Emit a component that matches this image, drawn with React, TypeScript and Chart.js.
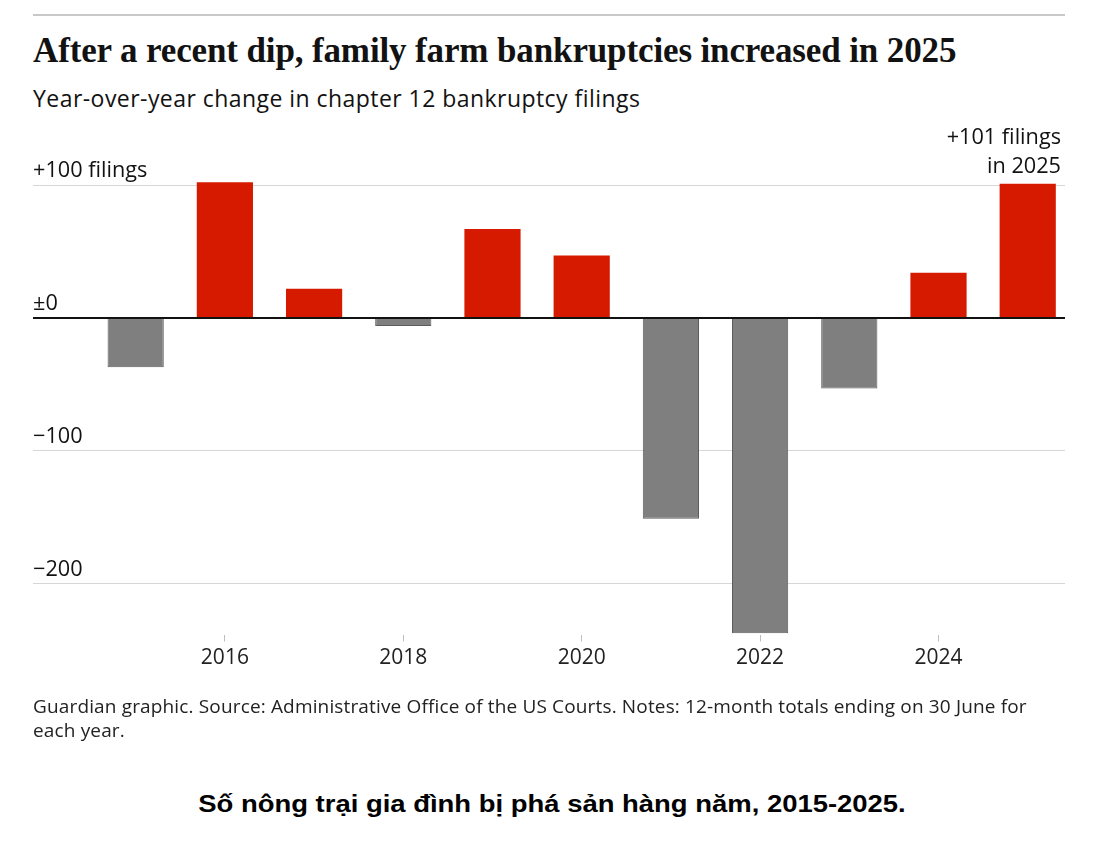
import React, { useEffect, useRef } from 'react';
import { Chart, registerables } from 'chart.js';

Chart.register(...registerables);

// ---- Data ----
const years = [2015, 2016, 2017, 2018, 2019, 2020, 2021, 2022, 2023, 2024, 2025];
const changes = [-37, 102, 22, -6, 67, 47, -151, -237, -53, 34, 101];
const yTickValues = [-200, -100, 0, 100];
const yTickLabels = ['\u2212200', '\u2212100', '\u00b10', '+100 filings'];
const xTickYears = [2016, 2018, 2020, 2022, 2024];
const annotationLines = ['+101 filings', 'in 2025'];

const titleText = 'After a recent dip, family farm bankruptcies increased in 2025';
const subtitleText = 'Year-over-year change in chapter 12 bankruptcy filings';
const sourceText =
  'Guardian graphic. Source: Administrative Office of the US Courts. Notes: 12-month totals ending on 30 June for each year.';
const captionText = 'Số nông trại gia đình bị phá sản hàng năm, 2015-2025.';

const RED = '#d61a00';
const GREY = '#7f7f7f';
const INK = '#121212';
const SANS = '"Open Sans", "Noto Sans", sans-serif';

const labelPlugin = {
  id: 'guardianLabels',
  afterDatasetsDraw(chart: any) {
    const { ctx, chartArea, scales } = chart;
    const y = scales.y;
    ctx.save();
    const y0 = y.getPixelForValue(0);
    ctx.strokeStyle = INK;
    ctx.lineWidth = 2;
    ctx.beginPath();
    ctx.moveTo(chartArea.left, y0);
    ctx.lineTo(chartArea.right, y0);
    ctx.stroke();

    ctx.font = `21.7px ${SANS}`;
    ctx.fillStyle = INK;
    ctx.textBaseline = 'alphabetic';
    ctx.textAlign = 'left';
    yTickValues.forEach((v, i) => {
      ctx.fillText(yTickLabels[i], chartArea.left, y.getPixelForValue(v) - 8);
    });

    const meta = chart.getDatasetMeta(0);
    const last = meta.data[meta.data.length - 1];
    const topPix = last.y;
    ctx.textAlign = 'right';
    const rx = chartArea.right - 4;
    ctx.fillText(annotationLines[0], rx, topPix - 40);
    ctx.fillText(annotationLines[1], rx, topPix - 11);
    ctx.restore();
  },
};

export default function App() {
  const canvasRef = useRef<HTMLCanvasElement | null>(null);

  useEffect(() => {
    document.body.style.margin = '0';
    const canvas = canvasRef.current;
    if (!canvas) return;
    const chart = new Chart(canvas, {
      type: 'bar',
      data: {
        datasets: [
          {
            data: years.map((yr, i) => ({ x: yr, y: changes[i] })),
            backgroundColor: changes.map((v) => (v >= 0 ? RED : GREY)),
            borderColor: changes.map((v) => (v >= 0 ? RED : '#5c5c5c')),
            borderWidth: changes.map((v) => (v >= 0 ? 0 : 1)),
            barPercentage: 0.63,
            categoryPercentage: 1,
          },
        ],
      },
      options: {
        animation: false,
        responsive: false,
        devicePixelRatio: 1,
        layout: { padding: { left: 33, right: 35, top: 51.7, bottom: 25.46 } },
        plugins: {
          legend: { display: false },
          tooltip: { enabled: false },
          title: { display: false },
        },
        scales: {
          x: {
            type: 'linear',
            min: 2013.849,
            max: 2025.418,
            offset: false,
            border: { display: false },
            grid: {
              offset: false,
              drawOnChartArea: false,
              drawTicks: true,
              tickLength: 7,
              tickColor: '#bdbdbd',
              tickWidth: 1,
            },
            afterBuildTicks: (scale: any) => {
              scale.ticks = xTickYears.map((v) => ({ value: v }));
            },
            afterFit: (scale: any) => {
              scale.height = 40;
            },
            ticks: {
              callback: (v: any) => String(v),
              color: '#222',
              font: { family: SANS, size: 21 },
              padding: 4,
              maxRotation: 0,
              autoSkip: false,
            },
          },
          y: {
            min: -238,
            max: 110,
            border: { display: false },
            afterBuildTicks: (scale: any) => {
              scale.ticks = yTickValues.map((v) => ({ value: v }));
            },
            grid: {
              drawTicks: false,
              color: (c: any) => (c.tick && c.tick.value === 0 ? 'rgba(0,0,0,0)' : '#d6d6d6'),
              lineWidth: 1,
            },
            ticks: { display: false },
          },
        },
      },
      plugins: [labelPlugin],
    });
    return () => chart.destroy();
  }, []);

  return (
    <div style={{ position: 'relative', width: 1100, height: 853, background: '#fff', overflow: 'hidden' }}>
      <div
        style={{
          position: 'absolute',
          left: 33,
          top: 14,
          width: 1032,
          height: 2,
          background: '#c8c8c8',
        }}
      />
      <div
        style={{
          position: 'absolute',
          left: 33,
          top: 32.7,
          fontFamily: '"Liberation Serif", "DejaVu Serif", serif',
          fontWeight: 700,
          fontSize: 35,
          lineHeight: '35px',
          color: INK,
          whiteSpace: 'nowrap',
          letterSpacing: -0.13,
        }}
      >
        {titleText}
      </div>
      <div
        style={{
          position: 'absolute',
          left: 33,
          top: 86.6,
          fontFamily: SANS,
          fontSize: 23,
          lineHeight: '23px',
          color: INK,
          whiteSpace: 'nowrap',
          letterSpacing: 0.45,
        }}
      >
        {subtitleText}
      </div>
      <canvas
        ref={canvasRef}
        width={1100}
        height={580}
        style={{ position: 'absolute', left: 0, top: 120, width: 1100, height: 580 }}
      />
      <div
        style={{
          position: 'absolute',
          left: 33,
          top: 693.5,
          width: 1012,
          fontFamily: SANS,
          fontSize: 19,
          lineHeight: '24px',
          letterSpacing: 0.15,
          color: '#222',
        }}
      >
        {sourceText}
      </div>
      <div
        style={{
          position: 'absolute',
          left: 0,
          top: 792.3,
          width: 1104,
          textAlign: 'center',
          fontFamily: '"Liberation Sans", Arial, sans-serif',
          fontWeight: 700,
          fontSize: 24.5,
          lineHeight: '24.5px',
          color: '#000',
          transform: 'scaleX(1.12)',
          transformOrigin: '552px 0',
          whiteSpace: 'nowrap',
        }}
      >
        {captionText}
      </div>
    </div>
  );
}
